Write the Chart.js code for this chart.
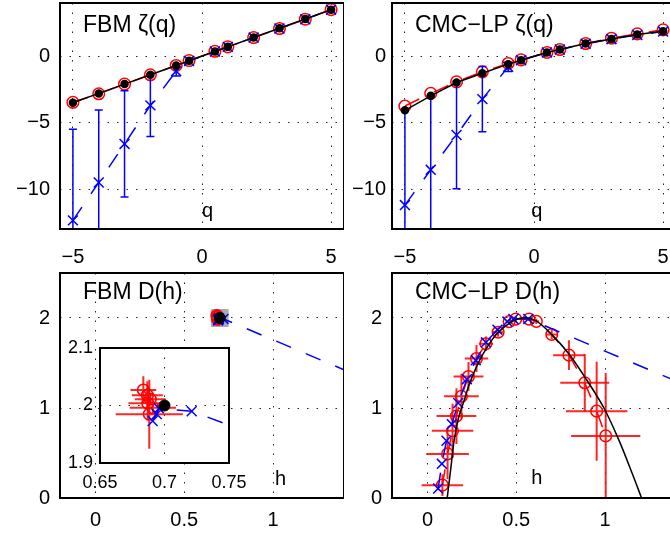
<!DOCTYPE html>
<html>
<head>
<meta charset="utf-8">
<script src="https://cdn.jsdelivr.net/npm/chart.js@4.4.1/dist/chart.umd.min.js"></script>
<style>
  html, body { margin: 0; padding: 0; background: #fff; overflow: hidden; }
  body { width: 670px; height: 536px; position: relative; }
  .panel { position: absolute; }
</style>
</head>
<body>
<div class="panel" style="left:0;top:0;width:344px;height:267px"><canvas id="cTL"></canvas></div>
<div class="panel" style="left:340px;top:0;width:336px;height:267px"><canvas id="cTR"></canvas></div>
<div class="panel" style="left:0;top:270px;width:344px;height:266px"><canvas id="cBL"></canvas></div>
<div class="panel" style="left:340px;top:270px;width:336px;height:266px"><canvas id="cBR"></canvas></div>
<div class="panel" style="left:60px;top:338px;width:194px;height:157px"><canvas id="cIN"></canvas></div>
<script>
// ============================================
// Data
// ============================================

// zeta(q), top row
const qValues = [-5, -4, -3, -2, -1, -0.5, 0.5, 1, 2, 3, 4, 5];
const fbmZetaTheory = [-3.5, -2.8, -2.1, -1.4, -0.7, -0.35, 0.35, 0.7, 1.4, 2.1, 2.8, 3.5];
const fbmZetaRed = [-3.47, -2.83, -2.1, -1.4, -0.7, -0.33, 0.37, 0.7, 1.4, 2.08, 2.78, 3.5];
const fbmZetaBlue = [-12.35, -9.5, -6.6, -3.7, -1.13, -0.36, 0.35, 0.7, 1.4, 2.08, 2.78, 3.5];
const fbmZetaBlueErr = [6.85, 5.45, 4.0, 2.35, 0.37, 0.06, 0.05, 0.05, 0.05, 0.05, 0.05, 0.05];

const cmcZetaTheory = [-4.07, -2.98, -1.98, -1.28, -0.6, -0.3, 0.28, 0.5, 0.95, 1.3, 1.63, 1.88];
const cmcZetaRed = [-3.75, -2.8, -1.93, -1.18, -0.55, -0.28, 0.28, 0.5, 0.95, 1.35, 1.68, 1.98];
const cmcZetaBlue = [-11.2, -8.55, -5.93, -3.23, -0.8, -0.3, 0.28, 0.5, 0.93, 1.28, 1.6, 1.85];
const cmcZetaBlueErr = [7.1, 5.6, 4.05, 2.45, 0.35, 0.08, 0.05, 0.05, 0.05, 0.05, 0.05, 0.05];

// D(h), FBM (bottom left + inset)
const fbmHTheory = [0.7];
const fbmDTheory = [2.0];
const fbmHRed = [0.6836, 0.6867, 0.689, 0.687, 0.691, 0.6882];
const fbmDRed = [2.027, 2.018, 2.011, 2.004, 1.996, 1.985];
const fbmHRedErr = [0.010, 0.012, 0.012, 0.015, 0.018, 0.026];
const fbmDRedErr = [0.024, 0.024, 0.010, 0.030, 0.010, 0.060];
const fbmHBlue = [0.6908, 0.694, 0.6957, 0.7211];
const fbmDBlue = [1.973, 1.985, 1.995, 1.990];
const fbmBlueTailH = [1.4];
const fbmBlueTailD = [1.425];

// D(h), CMC-LP (bottom right)
const cmcHTheory = [0.111, 0.132, 0.150, 0.175, 0.206, 0.235, 0.272, 0.319, 0.385, 0.46, 0.53, 0.61, 0.703, 0.797, 0.891, 0.994, 1.079, 1.154, 1.206];
const cmcDTheory = [0, 0.34, 0.64, 0.89, 1.08, 1.26, 1.44, 1.62, 1.81, 1.94, 2.0, 1.97, 1.81, 1.60, 1.33, 1.00, 0.64, 0.27, 0];
const cmcHRed = [0.084, 0.113, 0.141, 0.163, 0.191, 0.231, 0.276, 0.329, 0.398, 0.46, 0.497, 0.572, 0.613, 0.70, 0.797, 0.886, 0.953, 1.004];
const cmcDRed = [0.143, 0.49, 0.746, 0.91, 1.13, 1.35, 1.55, 1.714, 1.842, 1.96, 1.988, 1.988, 1.963, 1.817, 1.587, 1.28, 0.965, 0.69];
const cmcHRedErr = [0.117, 0.12, 0.117, 0.112, 0.098, 0.084, 0.066, 0.04, 0.03, 0.02, 0.01, 0.01, 0.015, 0.03, 0.089, 0.138, 0.173, 0.195];
const cmcDRedErr = [0.12, 0.28, 0.30, 0.31, 0.25, 0.16, 0.15, 0.08, 0.05, 0.03, 0.02, 0.02, 0.03, 0.05, 0.165, 0.32, 0.55, 0.70];
const cmcHBlue = [0.060, 0.081, 0.107, 0.137, 0.173, 0.222, 0.272, 0.329, 0.394, 0.45, 0.484, 0.568];
const cmcDBlue = [0.106, 0.38, 0.636, 0.82, 1.056, 1.32, 1.53, 1.73, 1.87, 1.96, 1.99, 1.99];
const cmcBlueTailH = [1.4];
const cmcBlueTailD = [1.30];

// axes
const qRange = [-5.5, 5.5];
const zetaRange = [-13, 4];
const hRange = [-0.2, 1.4];
const dRange = [0, 2.5];
const insetH = [0.65, 0.75];
const insetD = [1.9, 2.1];
const qTicks = [-5, 0, 5];
const zetaTicks = [-10, -5, 0];
const hTicks = [0, 0.5, 1];
const dTicks = [0, 1, 2];
const insetHTicks = [0.65, 0.7, 0.75];
const insetDTicks = [1.9, 2, 2.1];

// ============================================
// Helpers
// ============================================

const FONT = "'Liberation Sans', Arial, Helvetica, sans-serif";
const RED = '#ff0000';
const BLUE = '#0000ff';
const DASH = [16, 16];

Chart.defaults.font.family = FONT;
Chart.defaults.color = '#000';

const pts = (xs, ys) => xs.map((v, i) => ({ x: v, y: ys[i] }));
const minus = v => String(v).replace('-', '\u2212');

// fixed axis size, and no label overflow padding so the plot box lands where we want it
const fixSize = (key, px) => s => {
    s[key] = px;
    s.paddingTop = 0; s.paddingBottom = 0; s.paddingLeft = 0; s.paddingRight = 0;
};

function axis(range, ticks, fit, pad, size) {
    return {
        type: 'linear',
        min: range[0],
        max: range[1],
        afterBuildTicks: s => { s.ticks = ticks.map(v => ({ value: v })); },
        afterFit: fit,
        grid: { color: 'rgba(0,0,0,0.85)', lineWidth: 1, drawTicks: false },
        border: { display: false, dash: [1.5, 8] },
        ticks: { padding: pad, autoSkip: false, maxRotation: 0, color: '#000', font: { size: size || 20 }, callback: minus }
    };
}

// frame, in-plot labels, grey zoom box and error bars
const panelPlugin = {
    id: 'panel',
    beforeDraw(chart, args, o) {
        if (!o.fill) return;
        const { ctx, chartArea: a } = chart;
        ctx.save();
        ctx.fillStyle = o.fill;
        ctx.fillRect(a.left, a.top, a.right - a.left, a.bottom - a.top);
        ctx.restore();
    },
    beforeDatasetsDraw(chart, args, o) {
        if (!o.zoomBox) return;
        const { ctx, scales: { x, y } } = chart;
        const x0 = x.getPixelForValue(insetH[0]), x1 = x.getPixelForValue(insetH[1]);
        const y0 = y.getPixelForValue(insetD[1]), y1 = y.getPixelForValue(insetD[0]);
        ctx.save();
        ctx.fillStyle = '#ababab';
        ctx.fillRect(x0, y0, x1 - x0, y1 - y0);
        ctx.restore();
    },
    afterDatasetDraw(chart, args) {
        const ds = chart.data.datasets[args.index];
        if (!ds.errY && !ds.errX) return;
        const { ctx, chartArea: a, scales: { x, y } } = chart;
        ctx.save();
        ctx.beginPath();
        ctx.rect(a.left, a.top, a.right - a.left, a.bottom - a.top);
        ctx.clip();
        ctx.setLineDash([]);
        ctx.strokeStyle = ds.errColor;
        ctx.lineWidth = ds.errWidth;
        const cap = ds.errCap || 0;
        ds.data.forEach((p, i) => {
            const px = x.getPixelForValue(p.x), py = y.getPixelForValue(p.y);
            ctx.beginPath();
            if (ds.errY) {
                const yt = y.getPixelForValue(p.y + ds.errY[i]);
                const yb = y.getPixelForValue(p.y - ds.errY[i]);
                ctx.moveTo(px, yt); ctx.lineTo(px, yb);
                if (cap) {
                    ctx.moveTo(px - cap, yt); ctx.lineTo(px + cap, yt);
                    ctx.moveTo(px - cap, yb); ctx.lineTo(px + cap, yb);
                }
            }
            if (ds.errX) {
                ctx.moveTo(x.getPixelForValue(p.x - ds.errX[i]), py);
                ctx.lineTo(x.getPixelForValue(p.x + ds.errX[i]), py);
            }
            ctx.stroke();
        });
        ctx.restore();
    },
    afterDraw(chart, args, o) {
        const { ctx, chartArea: a } = chart;
        ctx.save();
        ctx.setLineDash([]);
        ctx.strokeStyle = '#000';
        ctx.lineWidth = 2;
        ctx.strokeRect(a.left, a.top, a.right - a.left, a.bottom - a.top);
        ctx.fillStyle = '#000';
        ctx.textBaseline = 'alphabetic';
        if (o.title) {
            ctx.font = '23px ' + FONT;
            ctx.textAlign = 'left';
            ctx.fillText(o.title, a.left + 23, a.top + o.titleBase);
        }
        if (o.varLabel) {
            ctx.font = '20px ' + FONT;
            ctx.textAlign = 'center';
            ctx.fillText(o.varLabel, a.left + o.varAt * (a.right - a.left), a.bottom - o.varBase);
        }
        ctx.restore();
    }
};

function makeChart(id, datasets, xs, ys, pad, panel) {
    return new Chart(document.getElementById(id), {
        type: 'scatter',
        data: { datasets },
        options: {
            responsive: true,
            maintainAspectRatio: false,
            animation: false,
            events: [],
            layout: { padding: pad, autoPadding: false },
            plugins: { legend: { display: false }, tooltip: { enabled: false }, panel },
            scales: { x: xs, y: ys }
        },
        plugins: [panelPlugin]
    });
}

const blackLine = data => ({ data, showLine: true, borderColor: '#000', borderWidth: 1.5, pointRadius: 3.5, pointBackgroundColor: '#000', pointBorderColor: '#000', order: 0 });
const blueSet = (data, err, line) => ({ data, showLine: line, borderColor: BLUE, borderWidth: 1.5, borderDash: DASH, pointStyle: 'crossRot', pointRadius: 7, pointBorderColor: BLUE, pointBorderWidth: 1.5, errY: err, errCap: 4, errColor: BLUE, errWidth: 1.5, order: 1 });
const redSet = (data, errX, errY) => ({ data, showLine: true, borderColor: RED, borderWidth: 1.5, borderDash: DASH, pointStyle: 'circle', pointRadius: 5.8, pointBackgroundColor: 'rgba(0,0,0,0)', pointBorderColor: RED, pointBorderWidth: 1.5, errX, errY, errColor: 'rgba(255,0,0,0.85)', errWidth: 2, order: 2 });
const blueLine = data => ({ data, showLine: true, borderColor: BLUE, borderWidth: 1.5, borderDash: DASH, pointRadius: 0, order: 1 });

// ============================================
// Top row: zeta(q)
// ============================================

makeChart('cTL', [
    blackLine(pts(qValues, fbmZetaTheory)),
    blueSet(pts(qValues, fbmZetaBlue), fbmZetaBlueErr, true),
    redSet(pts(qValues, fbmZetaRed))
], axis(qRange, qTicks, fixSize('height', 38), 16),
   axis(zetaRange, zetaTicks, fixSize('width', 60), 10),
   { top: 3, right: 0, bottom: 0, left: 0 },
   { title: 'FBM \u03b6(q)', titleBase: 28.5, varLabel: 'q', varAt: 0.52, varBase: 12 });

makeChart('cTR', [
    blackLine(pts(qValues, cmcZetaTheory)),
    blueSet(pts(qValues, cmcZetaBlue), cmcZetaBlueErr, true),
    redSet(pts(qValues, cmcZetaRed))
], axis(qRange, qTicks, fixSize('height', 38), 16),
   axis(zetaRange, zetaTicks, fixSize('width', 52), 6),
   { top: 3, right: 0, bottom: 0, left: 0 },
   { title: 'CMC\u2212LP \u03b6(q)', titleBase: 28.5, varLabel: 'q', varAt: 0.51, varBase: 12 });

// ============================================
// Bottom row: D(h)
// ============================================

const fbmDh = () => [
    { data: pts(fbmHTheory, fbmDTheory), pointRadius: 5.5, pointBackgroundColor: '#000', pointBorderColor: '#000', order: 0 },
    blueSet(pts(fbmHBlue, fbmDBlue), null, false),
    blueLine(pts(fbmHBlue.concat(fbmBlueTailH), fbmDBlue.concat(fbmBlueTailD))),
    redSet(pts(fbmHRed, fbmDRed), fbmHRedErr, fbmDRedErr)
];

makeChart('cBL', fbmDh(),
   axis(hRange, hTicks, fixSize('height', 38), 10),
   axis(dRange, dTicks, fixSize('width', 60), 10),
   { top: 3, right: 0, bottom: 0, left: 0 },
   { title: 'FBM D(h)', titleBase: 25.5, varLabel: 'h', varAt: 0.777, varBase: 13, zoomBox: true });

makeChart('cBR', [
    { data: pts(cmcHTheory, cmcDTheory), showLine: true, tension: 0.3, borderColor: '#000', borderWidth: 1.5, pointRadius: 0, order: 0 },
    blueSet(pts(cmcHBlue, cmcDBlue), null, false),
    blueLine(pts(cmcHBlue.concat(cmcBlueTailH), cmcDBlue.concat(cmcBlueTailD))),
    redSet(pts(cmcHRed, cmcDRed), cmcHRedErr, cmcDRedErr)
], axis(hRange, hTicks, fixSize('height', 38), 10),
   axis(dRange, dTicks, fixSize('width', 52), 10),
   { top: 3, right: 0, bottom: 0, left: 0 },
   { title: 'CMC\u2212LP D(h)', titleBase: 25.5, varLabel: 'h', varAt: 0.51, varBase: 14 });

// inset: zoom of FBM D(h) around (0.7, 2)
makeChart('cIN', fbmDh(),
   axis(insetH, insetHTicks, fixSize('height', 32), 9, 18),
   axis(insetD, insetDTicks, fixSize('width', 40), 7, 18),
   { top: 10, right: 25, bottom: 0, left: 0 },
   { fill: '#fff' });
</script>
</body>
</html>
